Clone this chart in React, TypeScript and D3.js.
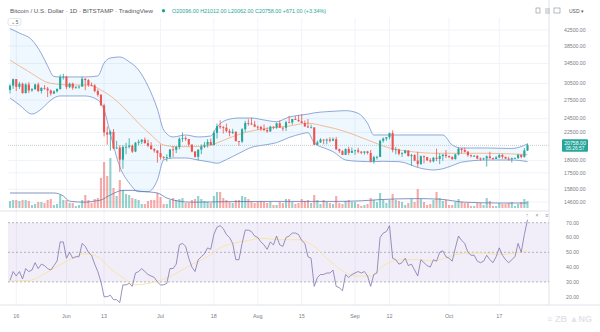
import React from "react";
import * as d3 from "d3";

// ---- Daily candles, BITSTAMP BTC/USD, 2022-05-14 .. 2022-10-26 ----
const startDate = "2022-05-14";

const opens = [
  29280,30080,31320,29850,30420,28700,30300,29200,29430,30290,29100,29650,29540,29200,28630,29030,29470,31730,
  31800,29800,30450,29700,29860,29900,31370,31130,30200,30110,29080,28420,26600,22490,22200,22580,20380,20470,19000,20550,20570,20720,19970,21090,21230,21490,21030,20730,20280,20100,
  19780,19300,19240,19300,20230,20190,20550,21630,21730,21590,20860,19970,19330,20210,20590,20830,21200,20790,22430,23390,23230,23160,22680,22450,22580,21310,21250,22950,23850,23780,23640,
  23300,23270,22990,22820,22630,23310,23180,23810,23160,23150,23950,23930,24440,24300,24100,23850,23340,23190,23210,20840,21150,21520,21400,21530,21370,21570,20260,20030,19560,20280,19810,
  20050,20130,19950,19830,19990,19800,18790,19290,19320,21360,21650,21830,22400,20170,20230,19700,19800,20110,19420,19540,18880,18490,19400,19290,18920,18800,19220,19080,19410,19590,
  19420,19310,19060,19620,20340,20160,19950,19530,19420,19450,19130,19060,19150,19380,19180,19070,19260,19550,19330,19120,19040,19160,19200,19570,19330,20096,
];
const highs = [
  30330,31410,31320,30780,30660,30540,30730,29620,30450,30650,29800,30200,29850,29370,29200,29560,32220,32380,
  31960,30650,30650,29950,30150,31750,31550,31330,30680,30350,29430,28560,26880,23350,22800,22980,21350,20770,20800,21080,21700,20850,21200,21500,21580,21800,21500,21180,20400,20150,
  20870,19420,19640,20300,20680,20650,21800,22500,21950,21600,20860,20050,20250,20880,21200,21580,21650,22720,23770,24260,23420,23760,22990,23000,22650,21330,23100,24170,24420,24650,24170,
  23480,23450,23650,23200,23450,23360,23930,24220,23250,24190,24920,24460,24890,25050,25200,24230,24450,23600,23210,21380,21700,21520,21650,21830,21800,21880,20340,20150,20380,20570,20480,
  20200,20440,20050,20000,20050,20170,19450,19460,21500,21800,21850,22480,22790,20530,20340,19890,20200,20110,19680,19640,19950,19500,19490,19320,19180,19310,20340,19760,19640,20170,
  19480,19390,19700,20480,20360,20450,20060,19610,19540,19520,19250,19220,19500,19950,19220,19420,19680,19700,19350,19350,19250,19250,19690,19600,20410,21012,
];
const lows = [
  28640,29480,29090,29470,28660,28700,28740,28950,29260,28880,28640,29330,28020,28260,28550,28820,29300,31220,
  29420,29600,29300,29470,29500,29870,29250,29860,29950,28850,28100,26560,21950,20840,20080,20250,20300,17600,17950,19650,20360,19800,19900,20770,20930,21000,20520,20200,19850,18630,
  19000,19000,18780,19060,19310,19780,20250,21200,21330,20650,19880,19240,18900,19650,20400,20490,20760,20770,21650,23000,22340,22500,21960,22270,21270,20700,21050,22580,23450,23530,23230,
  22850,22700,22680,22440,22600,22940,22990,23150,22680,22700,23880,23600,24300,24050,23800,23300,23180,23100,20790,20770,21060,20900,20900,21150,21310,20150,19800,19550,19550,19540,19800,
  19580,19750,19650,19600,19630,18680,18540,19000,19300,21110,21360,21560,19870,19630,19500,19320,19700,19380,18280,18820,18150,18370,18550,18820,18630,18680,18820,18470,18860,19180,
  19160,18960,19000,19500,19740,19860,19330,19260,19330,19040,18870,18980,18190,19100,18980,19070,19160,19100,19070,18900,18660,19110,19070,19160,19240,20062,
];
const closes = [
  30080,31320,29850,30420,28700,30300,29200,29430,30290,29100,29650,29540,29200,28630,29030,29470,31730,31800,
  29800,30450,29700,29860,29900,31370,31130,30200,30110,29080,28420,26600,22490,22200,22580,20380,20470,19000,20550,20570,20720,19970,21090,21230,21490,21030,20730,20280,20100,19780,
  19300,19240,19300,20230,20190,20550,21630,21730,21590,20860,19970,19330,20210,20590,20830,21200,20790,22430,23390,23230,23160,22680,22450,22580,21310,21250,22950,23850,23780,23640,23300,
  23270,22990,22820,22630,23310,23180,23810,23160,23150,23950,23930,24440,24300,24100,23850,23340,23190,23210,20840,21150,21520,21400,21530,21370,21570,20260,20030,19560,20280,19810,20050,
  20130,19950,19830,19990,19800,18790,19290,19320,21360,21650,21830,22400,20170,20230,19700,19800,20110,19420,19540,18880,18490,19400,19290,18920,18800,19220,19080,19410,19590,19420,
  19310,19060,19620,20340,20160,19950,19530,19420,19450,19130,19060,19150,19380,19180,19070,19260,19550,19330,19120,19040,19160,19200,19570,19330,20096,20758,
];
const volumes = [
  3500,4000,4000,3500,4000,4000,3500,
  1500,2000,3000,3000,2500,4000,4500,
  1500,2000,6500,4000,
  4000,2500,2500,1000,1500,4000,6500,4000,2500,4500,5000,
  15000,23000,16000,25000,10000,6000,14000,
  9000,7000,6500,5000,4500,4000,2000,2000,3500,4000,4000,7500,
  5500,2000,2000,4000,5000,4000,4500,5000,2500,2500,4000,4500,
  6000,4500,3500,3000,2500,6000,8000,8000,5000,4000,3000,2500,
  4000,4000,6000,5500,4500,3000,2500,3000,3500,3000,2500,3000,
  1500,1500,3000,2500,4500,4500,3000,2000,2500,4500,3500,4000,
  2500,6500,4000,2000,4000,3000,2500,2000,6000,2500,2000,3500,
  4000,3000,3000,2000,1000,1500,2000,5000,4000,3000,7500,4000,
  2500,4000,7000,4000,3500,3000,1500,2500,4500,3000,9500,4500,
  3000,1500,2000,4000,8000,5000,3500,4000,1500,1500,3000,4500,
  3000,2500,2500,1000,1000,2500,2500,1500,5000,3500,1000,1000,
  2500,2000,2000,2500,3000,1000,2000,3000,4500,3500,
];

// Volume moving average, read at sampled bars
const volMaDays = [0,14,17,19,24,27,29,32,36,39,42,47,50,54,58,70,84,93,104,112,118,130,137,145,156,165];
const volMaVals = [7500,7500,6000,3400,2900,3500,4000,6500,8800,8800,8300,7500,5000,3400,2900,3200,3300,3300,3300,3600,4200,4700,4400,2900,2500,2500];

// Bollinger Bands (20, 2), read at sampled bars
const bbDays = [0,3,7,10,12,14,16,20,24,28,30,32,35,38,41,44,47,49,52,56,60,64,66,69,73,77,81,85,89,93,95,97,101,103,107,111,114,116,119,124,131,135,138,141,144,152,160,165];
const bbUpper = [42900,41700,39940,36700,34000,31850,31750,31750,31750,31950,34620,35720,35940,34900,33150,30000,26000,22840,21870,22140,21870,22000,23270,24300,24600,24600,24300,24050,24750,25070,25200,25400,25590,25650,25750,25330,23810,22140,22140,22140,22140,22140,22140,20800,20420,20420,20360,20930];
const bbLower = [27860,26680,25220,26020,27010,27860,28210,28210,28210,27510,25860,22300,18180,16430,15570,15570,16740,18950,19190,19190,18950,18700,18570,19000,19750,20500,20800,21110,21800,22300,22460,21070,20300,19960,18950,18800,18760,18760,18800,18760,18000,17810,17950,18300,18700,18950,18950,18760];
const basisDays = [0,6,13,20,25,29,33,37,41,45,49,53,58,63,67,71,76,82,89,95,100,107,114,121,128,136,143,152,160,165];
const basisVals = [35270,32800,30520,30200,30200,29280,27800,25860,23810,22140,20800,20590,20590,20680,21240,21910,22600,23080,23410,23810,23410,22600,21460,20420,19960,19760,19760,19760,19680,19600];

// RSI (14) per bar and its moving average at sampled bars
const rsi = [
  31,37,34,37,32,39,37,38,43,39,42,41,39,38,41,44,57,57,
  46,50,46,47,47,56,54,50,48,42,37,30,20,20,21,18,18,16,28,28,29,27,36,37,39,37,35,34,33,30,
  28,28,29,39,39,42,55,56,54,46,40,37,45,47,49,53,52,62,67,68,66,62,60,56,45,45,56,65,65,64,61,
  60,57,55,52,57,55,61,55,54,60,61,63,63,62,58,56,47,46,27,33,35,35,36,36,38,27,26,24,35,33,35,
  36,37,36,37,34,27,35,36,60,63,64,68,46,45,42,43,46,41,42,38,34,45,43,41,40,45,44,50,51,47,
  46,44,53,61,58,56,50,48,48,44,43,44,48,45,43,47,53,48,45,43,45,47,56,50,62,72,
];
const rsiMaDays = [0,6,13,18,24,28,32,36,40,44,48,54,59,63,67,71,76,80,86,92,97,101,106,110,115,119,125,130,135,140,145,151,156,161,165];
const rsiMaVals = [30.7,31,38,44,49,47,39,33,28,29,31,37,43,47,53,56,58,59.5,58.5,58.5,54,46,37.5,34,34,41,45,45,44,47,49.5,49.5,48.5,49.5,51];

// Axis ticks
const priceTicks = [42500,38500,34500,30500,27500,24500,22500,18900,17500,15800,14600];
const rsiTicks = [70,60,50,40,30,20];
const timeTickBars = [2,18,30,48,65,79,93,110,121,140,156];
const timeTickLabels = ["16","Jun","13","Jul","18","Aug","15","Sep","12","Oct","17"];

const UP = "#26a69a";
const DOWN = "#ef5350";
const FONT = "'Liberation Sans', Arial, sans-serif";

export default function App() {
  const n = closes.length;
  const x = d3.scaleLinear().domain([0, n - 1]).range([10, 527.5]);
  const y = d3.scaleLog().domain([14600, 42500]).range([202, 30]);
  const yv = d3.scaleLinear().domain([0, 25000]).range([208, 158]);
  const yr = d3.scaleLinear().domain([20, 70]).range([296.7, 222.7]);

  const paneL = 8, paneR = 549;
  const bw = 2.1;

  const bbArea = d3
    .area<number>()
    .x((_, i) => x(bbDays[i]))
    .y0((_, i) => y(bbLower[i]))
    .y1((_, i) => y(bbUpper[i]))
    .curve(d3.curveMonotoneX)(bbDays);
  const upperLine = d3.line<number>().x((_, i) => x(bbDays[i])).y((v) => y(v)).curve(d3.curveMonotoneX)(bbUpper);
  const lowerLine = d3.line<number>().x((_, i) => x(bbDays[i])).y((v) => y(v)).curve(d3.curveMonotoneX)(bbLower);
  const basisLine = d3.line<number>().x((_, i) => x(basisDays[i])).y((v) => y(v)).curve(d3.curveMonotoneX)(basisVals);
  const volMaLine = d3.line<number>().x((_, i) => x(volMaDays[i])).y((v) => yv(v)).curve(d3.curveMonotoneX)(volMaVals);
  const rsiLine = d3.line<number>().x((_, i) => x(i)).y((v) => yr(v))(rsi);
  const rsiMaLine = d3.line<number>().x((_, i) => x(rsiMaDays[i])).y((v) => yr(v)).curve(d3.curveMonotoneX)(rsiMaVals);

  const last = closes[n - 1];
  const lastY = y(last);

  return (
    <svg width={600} height={332} style={{ position: "absolute", left: 0, top: 0, background: "#fff" }} fontFamily={FONT}>
      <rect x={0} y={0} width={600} height={332} fill="#fff" />
      {/* grid */}
      {timeTickBars.map((b, i) => (
        <line key={"vg" + i} x1={x(b)} x2={x(b)} y1={18} y2={305} stroke="#f0f3fa" strokeWidth={1} />
      ))}
      {priceTicks.map((p, i) => (
        <line key={"hg" + i} x1={paneL} x2={paneR} y1={y(p)} y2={y(p)} stroke="#f0f3fa" strokeWidth={1} />
      ))}

      {/* Bollinger Bands */}
      <path d={bbArea || ""} fill="#2196f3" fillOpacity={0.07} />
      <path d={upperLine || ""} fill="none" stroke="#6f8cc9" strokeWidth={0.75} />
      <path d={lowerLine || ""} fill="none" stroke="#6f8cc9" strokeWidth={0.75} />
      <path d={basisLine || ""} fill="none" stroke="#f2ab7a" strokeWidth={0.8} />

      {/* volume */}
      {volumes.map((v, i) => (
        <rect
          key={"v" + i}
          x={x(i) - bw / 2}
          y={yv(v)}
          width={bw}
          height={yv(0) - yv(v)}
          fill={closes[i] >= opens[i] ? UP : DOWN}
          fillOpacity={0.5}
        />
      ))}
      <path d={volMaLine || ""} fill="none" stroke="#5a72ad" strokeWidth={0.75} />

      {/* last price line */}
      <line x1={paneL} x2={paneR} y1={lastY} y2={lastY} stroke="#a9bdbb" strokeWidth={0.7} strokeDasharray="1,1" />

      {/* candles */}
      {closes.map((c, i) => {
        const o = opens[i];
        const up = c >= o;
        const col = up ? UP : DOWN;
        const top = y(Math.max(o, c));
        const bot = y(Math.min(o, c));
        return (
          <g key={"c" + i}>
            <line x1={x(i)} x2={x(i)} y1={y(highs[i])} y2={y(lows[i])} stroke={col} strokeWidth={0.8} />
            <rect x={x(i) - bw / 2} y={top} width={bw} height={Math.max(0.8, bot - top)} fill={col} />
          </g>
        );
      })}

      {/* pane separators */}
      <line x1={0} x2={paneR} y1={211} y2={211} stroke="#e0e3eb" strokeWidth={1} />
      <line x1={0} x2={600} y1={305} y2={305} stroke="#e0e3eb" strokeWidth={1} />
      <line x1={paneR} x2={paneR} y1={0} y2={305} stroke="#e0e3eb" strokeWidth={1} />

      {/* RSI pane */}
      <rect x={paneL} y={yr(70)} width={paneR - paneL} height={yr(30) - yr(70)} fill="#7e57c2" fillOpacity={0.1} />
      {[70, 50, 30].map((t) => (
        <line key={"rl" + t} x1={paneL} x2={paneR} y1={yr(t)} y2={yr(t)} stroke="#9598a1" strokeWidth={0.7} strokeDasharray="2,2" />
      ))}
      <path d={rsiMaLine || ""} fill="none" stroke="#f6e3a0" strokeWidth={0.9} />
      <path d={rsiLine || ""} fill="none" stroke="#8075ad" strokeWidth={0.8} />

      {/* price axis labels */}
      {priceTicks.map((p, i) => (
        <text key={"pt" + i} x={564} y={y(p) + 1.8} fontSize={5.2} fill="#7b7e88">
          {p.toFixed(2)}
        </text>
      ))}
      {/* last price tag */}
      <rect x={562} y={lastY - 6} width={26} height={12.5} rx={1} fill={UP} />
      <text x={575} y={lastY - 0.6} fontSize={5.2} fill="#fff" textAnchor="middle">
        {last.toFixed(2)}
      </text>
      <text x={575} y={lastY + 5} fontSize={4.8} fill="#fff" textAnchor="middle">
        05:26:57
      </text>

      {/* RSI axis labels */}
      {rsiTicks.map((t) => (
        <text key={"rt" + t} x={566} y={yr(t) + 1.8} fontSize={5.2} fill="#7b7e88">
          {t.toFixed(2)}
        </text>
      ))}

      {/* time axis labels */}
      {timeTickBars.map((b, i) => (
        <text key={"tt" + i} x={x(b)} y={318} fontSize={5.4} fill="#7b7e88" textAnchor="middle">
          {timeTickLabels[i]}
        </text>
      ))}

      {/* header */}
      <text x={10} y={12.5} fontSize={5.6} fill="#555962" textLength={143} lengthAdjust="spacingAndGlyphs">
        Bitcoin / U.S. Dollar · 1D · BITSTAMP · TradingView
      </text>
      <circle cx={163.5} cy={10.8} r={1.7} fill={UP} />
      <text x={172} y={12.5} fontSize={5} fill={UP} textLength={154} lengthAdjust="spacingAndGlyphs">
        O20096.00 H21012.00 L20062.00 C20758.00 +671.00 (+3.34%)
      </text>
      <rect x={8} y={18.5} width={13} height={7} rx={2} fill="#fff" stroke="#d1d4dc" strokeWidth={0.6} />
      <text x={14.5} y={23.8} fontSize={4.6} fill="#555962" textAnchor="middle">⌄ 5</text>

      {/* top-right toolbar */}
      <g stroke="#8a8d96" strokeWidth={0.6} fill="none">
        <rect x={536} y={8} width={4} height={5} />
        <line x1={545} x2={550} y1={9} y2={9} />
        <line x1={545} x2={550} y1={11} y2={11} />
        <line x1={545} x2={550} y1={13} y2={13} />
        <rect x={554} y={8} width={6} height={5} />
      </g>
      <text x={569} y={12.5} fontSize={5} fill="#555962">USD ▾</text>

      {/* pane buttons */}
      <g fill="#8a8d96" fontSize={5}>
        <text x={527} y={217} textAnchor="middle">↑</text>
        <text x={537} y={217} textAnchor="middle">×</text>
        <text x={547} y={217} textAnchor="middle">≡</text>
      </g>

      {/* watermark */}
      <text x={592} y={322} fontSize={9} fill="#e2e4e8" textAnchor="end" fontWeight="bold">≡ ZB ▲NG</text>
    </svg>
  );
}
